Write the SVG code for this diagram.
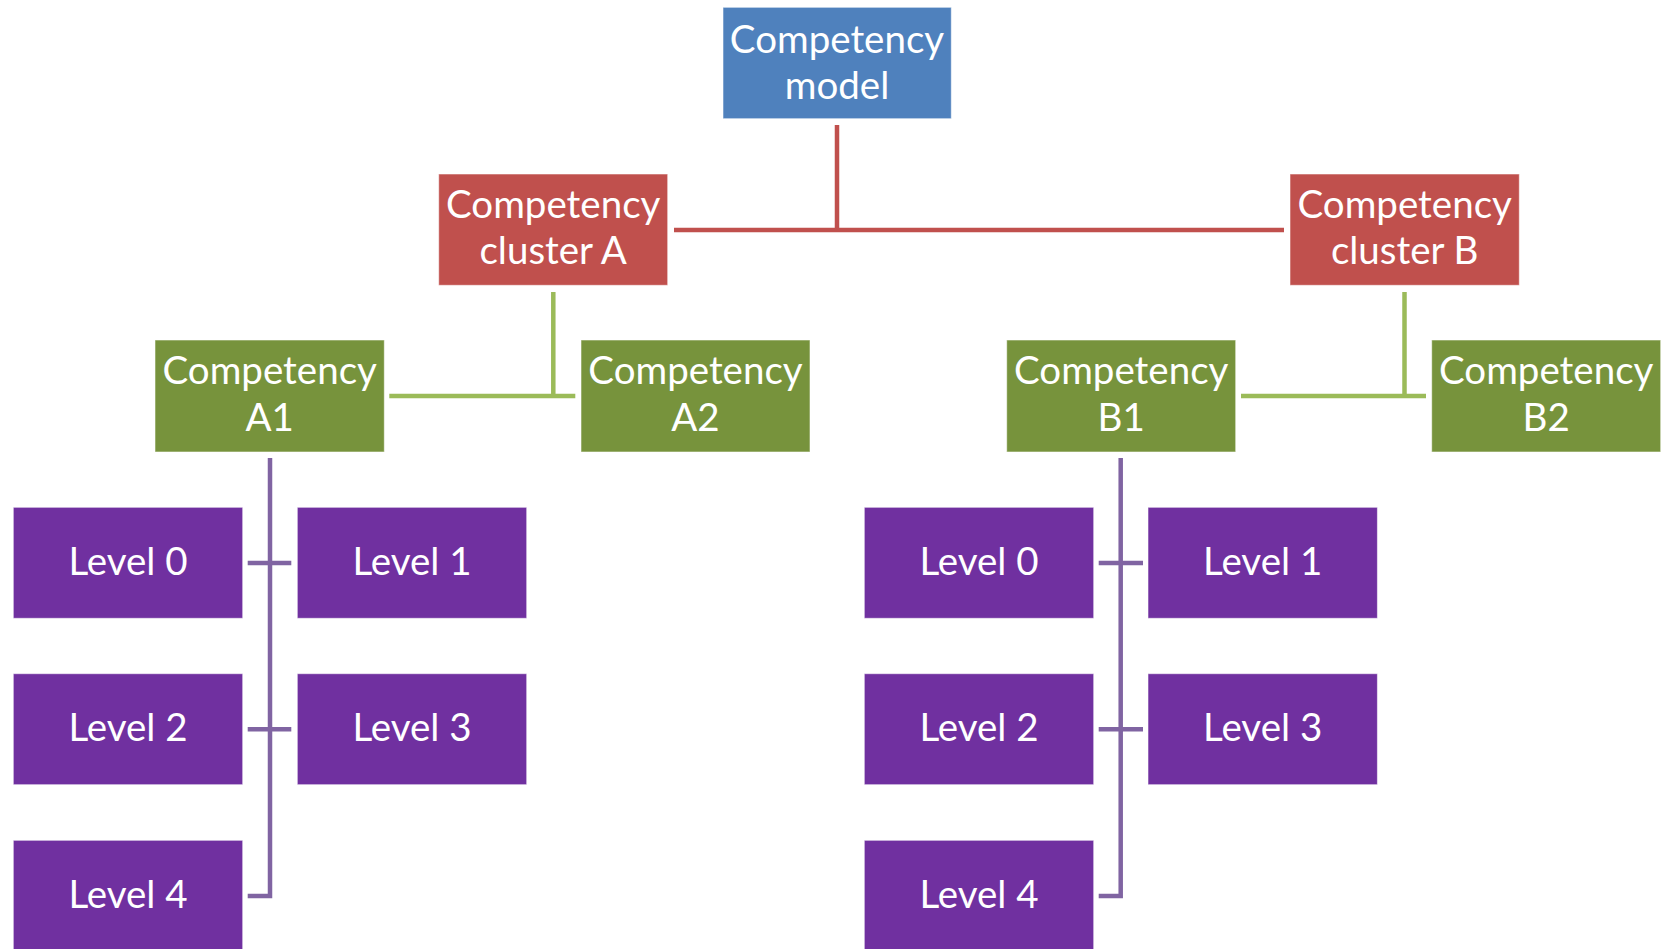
<svg xmlns="http://www.w3.org/2000/svg" width="1664" height="949" viewBox="0 0 1664 949">
  <style>
    .box { stroke: #ffffff; stroke-opacity: 0.55; stroke-width: 1; }
    .root { fill: #4F81BD; }
    .cluster { fill: #C0504D; }
    .comp { fill: #77933C; }
    .level { fill: #7030A0; }
    text { font-family: Lato, "Open Sans", "Liberation Sans", sans-serif; font-size: 38.5px; fill: #ffffff; text-anchor: middle; }
    .red { stroke: #C0504D; stroke-width: 4.5; fill: none; }
    .green { stroke: #9BBB59; stroke-width: 4.5; fill: none; }
    .purple { stroke: #8064A2; stroke-width: 4.5; fill: none; }
  </style>
  <rect width="1664" height="949" fill="#ffffff"/>

  <!-- connectors -->
  <g id="connectors">
    <path class="red" d="M837 125 V230 M674 230 H1284"/>
    <path class="green" d="M553.3 292 V396 M389.3 396 H575.3"/>
    <path class="green" d="M1404.5 292 V396 M1241 396 H1426"/>
    <path class="purple" d="M270 458 V896 H247.7 M247.7 563 H291.3 M247.7 729.3 H291.3"/>
    <path class="purple" d="M1120.7 458 V896 H1098.7 M1098.7 563 H1143 M1098.7 729.3 H1143"/>
  </g>

  <g id="model">
    <rect class="box root" x="723" y="7.3" width="228.3" height="111.4"/>
    <text x="837" y="53">Competency</text>
    <text x="837" y="98.7">model</text>
  </g>

  <g id="cluster-a">
    <rect class="box cluster" x="438.7" y="174" width="229" height="111.3"/>
    <text x="553.2" y="217.5">Competency</text>
    <text x="553.2" y="263.5">cluster A</text>
  </g>
  <g id="cluster-b">
    <rect class="box cluster" x="1290" y="174" width="229.3" height="111.3"/>
    <text x="1404.7" y="217.5">Competency</text>
    <text x="1404.7" y="263.5">cluster B</text>
  </g>

  <g id="comp-a1">
    <rect class="box comp" x="155" y="340" width="229.3" height="112"/>
    <text x="269.7" y="384">Competency</text>
    <text x="269.7" y="431">A1</text>
  </g>
  <g id="comp-a2">
    <rect class="box comp" x="581" y="340" width="229" height="112"/>
    <text x="695.5" y="384">Competency</text>
    <text x="695.5" y="431">A2</text>
  </g>
  <g id="comp-b1">
    <rect class="box comp" x="1006.7" y="340" width="229" height="112"/>
    <text x="1121.2" y="384">Competency</text>
    <text x="1121.2" y="431">B1</text>
  </g>
  <g id="comp-b2">
    <rect class="box comp" x="1431.7" y="340" width="229" height="112"/>
    <text x="1546.2" y="384">Competency</text>
    <text x="1546.2" y="431">B2</text>
  </g>

  <!-- levels under A1 -->
  <g id="a-level0">
    <rect class="box level" x="13.3" y="507.3" width="229.4" height="111"/>
    <text x="128" y="575">Level 0</text>
  </g>
  <g id="a-level1">
    <rect class="box level" x="297.3" y="507.3" width="229.4" height="111"/>
    <text x="412" y="575">Level 1</text>
  </g>
  <g id="a-level2">
    <rect class="box level" x="13.3" y="673.7" width="229.4" height="111"/>
    <text x="128" y="741.4">Level 2</text>
  </g>
  <g id="a-level3">
    <rect class="box level" x="297.3" y="673.7" width="229.4" height="111"/>
    <text x="412" y="741.4">Level 3</text>
  </g>
  <g id="a-level4">
    <rect class="box level" x="13.3" y="840.3" width="229.4" height="111"/>
    <text x="128" y="908">Level 4</text>
  </g>

  <!-- levels under B1 -->
  <g id="b-level0">
    <rect class="box level" x="864.3" y="507.3" width="229.4" height="111"/>
    <text x="979" y="575">Level 0</text>
  </g>
  <g id="b-level1">
    <rect class="box level" x="1148" y="507.3" width="229.4" height="111"/>
    <text x="1262.7" y="575">Level 1</text>
  </g>
  <g id="b-level2">
    <rect class="box level" x="864.3" y="673.7" width="229.4" height="111"/>
    <text x="979" y="741.4">Level 2</text>
  </g>
  <g id="b-level3">
    <rect class="box level" x="1148" y="673.7" width="229.4" height="111"/>
    <text x="1262.7" y="741.4">Level 3</text>
  </g>
  <g id="b-level4">
    <rect class="box level" x="864.3" y="840.3" width="229.4" height="111"/>
    <text x="979" y="908">Level 4</text>
  </g>
</svg>
